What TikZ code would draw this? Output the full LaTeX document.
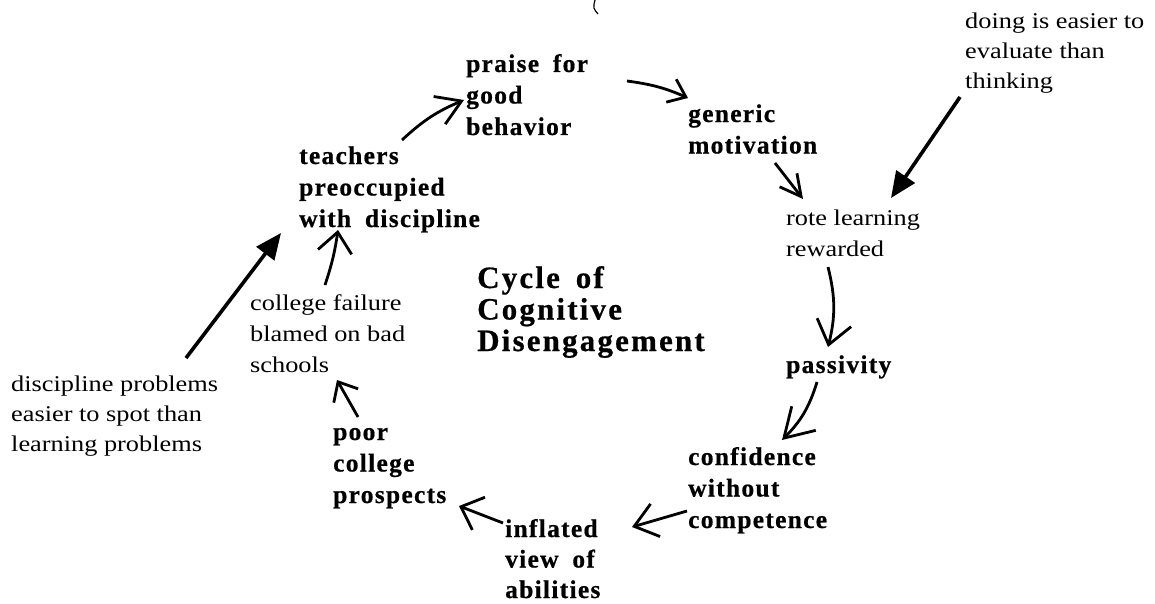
\documentclass[tikz,border=0pt]{standalone}
\usepackage{fontspec}
\setmainfont{Liberation Serif}
\newfontfamily\regfont{Liberation Serif}[FakeStretch=1.17]
\newfontfamily\bldfont{Liberation Serif}[LetterSpace=5,WordSpace=1.8,BoldFeatures={FakeBold=0.6}]
\newfontfamily\ttlfont{Liberation Serif}[LetterSpace=7,WordSpace=1.6,BoldFeatures={FakeBold=0.6}]
\usetikzlibrary{arrows.meta}
\begin{document}
\begin{tikzpicture}[x=1pt,y=-1pt,
  lab/.style={inner sep=0pt, anchor=base west, align=left,
    font=\bldfont\bfseries\fontsize{25.5}{31.5}\selectfont},
  reg/.style={inner sep=0pt, anchor=base west, align=left,
    font=\regfont\fontsize{22.5}{31}\selectfont},
  ttl/.style={inner sep=0pt, anchor=base west, align=left,
    font=\ttlfont\bfseries\fontsize{31}{31.5}\selectfont},
  oarr/.style 2 args={line width=2.8pt, -{Straight Barb[length=#1pt,width=#2pt]}},
  farr/.style={line width=3.6pt, -{Triangle[length=26pt,width=22pt]}}]
\fill[white] (0,0) rectangle (1155,604);
\useasboundingbox (0,0) rectangle (1155,604);

% labels (anchored at the baseline of their last line)
\node[lab] (praise) at (466,135) {praise for\\good\\behavior};
\node[lab] (generic) at (688,153.5) {generic\\motivation};
\node[reg] (rote) at (786,256) {rote learning\\rewarded};
\node[lab] (passiv) at (786,373) {passivity};
\node[lab] (conf) at (688,528) {confidence\\without\\competence};
\node[lab, font=\bldfont\bfseries\fontsize{25.5}{30.5}\selectfont] (infl) at (505,598) {inflated\\view of\\abilities};
\node[lab] (poor) at (333,503) {poor\\college\\prospects};
\node[reg] (college) at (250,372) {college failure\\blamed on bad\\schools};
\node[lab] (teach) at (299,227) {teachers\\preoccupied\\with\ discipline};
\node[ttl] (title) at (477,351) {Cycle of\\Cognitive\\Disengagement};
\node[reg, font=\regfont\fontsize{22.5}{30}\selectfont] (disc) at (11,451) {discipline problems\\easier to spot than\\learning problems};
\node[reg, font=\regfont\fontsize{22.5}{30}\selectfont] (doing) at (965,89) {doing is easier to\\evaluate than\\thinking};

% cycle connectors
\draw[oarr={24}{30}] ([shift={(103,-87)}]teach.base west) to[bend left=10] ([shift={(-2,-35)}]praise.base west);
\draw[oarr={16}{25}] ([shift={(161,-54)}]praise.base west) to[bend left=8] ([shift={(0,-55.5)}]generic.base west);
\draw[oarr={21}{22}] ([shift={(87,9.5)}]generic.base west) -- ([shift={(17,-57)}]rote.base west);
\draw[oarr={23}{35}] ([shift={(42,11)}]rote.base west) to[bend left=14] ([shift={(42,-26)}]passiv.base west);
\draw[oarr={28}{34}] ([shift={(31,9)}]passiv.base west) to[bend left=14] ([shift={(94,-88)}]conf.base west);
\draw[oarr={22}{34}] ([shift={(-1,-17)}]conf.base west) -- ([shift={(127,-71)}]infl.base west);
\draw[oarr={19}{35}] ([shift={(-2,-75)}]infl.base west) -- ([shift={(126,3)}]poor.base west);
\draw[oarr={16}{28}] ([shift={(25,-86)}]poor.base west) -- ([shift={(87,8)}]college.base west);
\draw[oarr={20}{34}] ([shift={(75,-87)}]college.base west) to[bend right=5] ([shift={(39,3)}]teach.base west);

% side causes
\draw[farr] ([shift={(175,-93)}]disc.base west) -- ([shift={(-18,6)}]teach.base west);
\draw[farr] ([shift={(-5,8)}]doing.base west) -- ([shift={(105,-58)}]rote.base west);

% stray mark at top
\draw[line width=1.2pt] (595,0) .. controls (593,8) .. (598,14);
\end{tikzpicture}
\end{document}
